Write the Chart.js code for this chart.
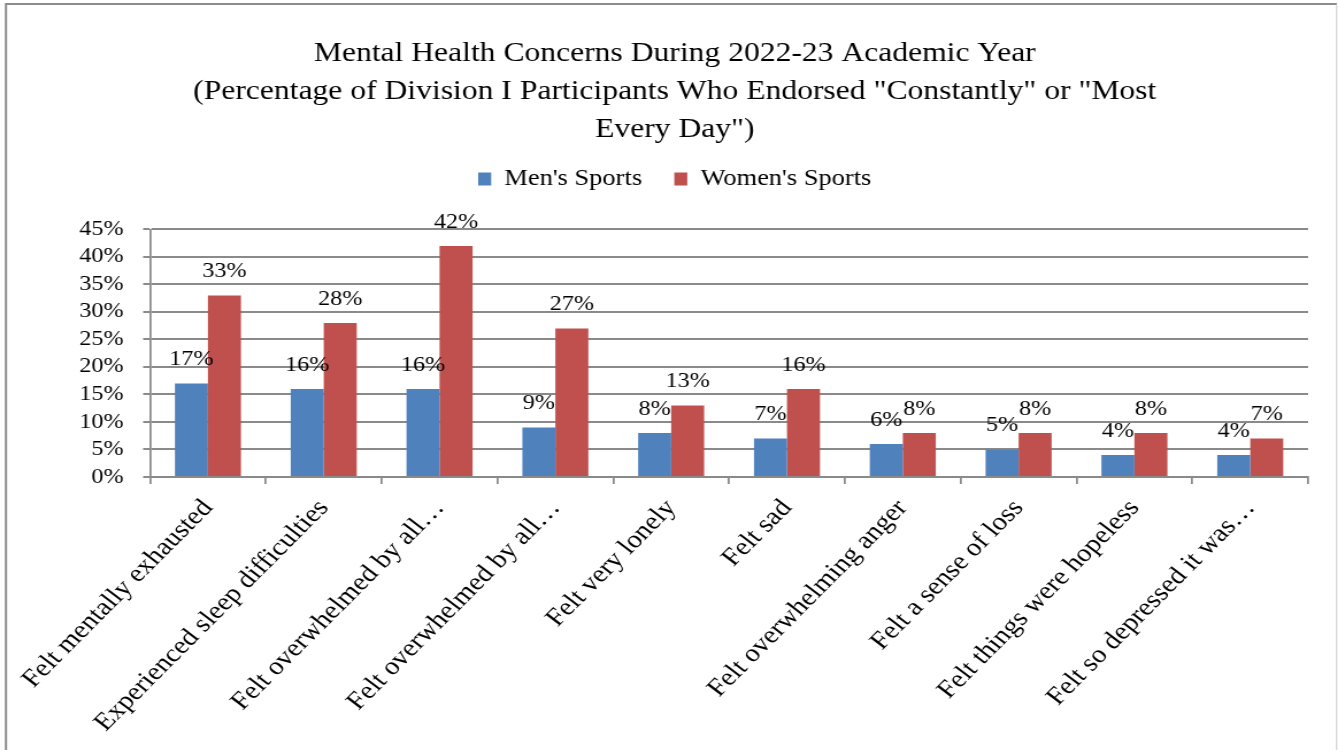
<!DOCTYPE html>
<html>
<head>
<meta charset="utf-8">
<script src="https://cdn.jsdelivr.net/npm/chart.js@4/dist/chart.umd.min.js"></script>
<style>
  html, body { margin: 0; padding: 0; background: #fff; overflow: hidden; }
  #wrap { width: 1338px; height: 750px; overflow: hidden; }
  /* the chart is laid out narrower and stretched sideways to the page width */
  #chart { transform: scaleX(1.1495); transform-origin: 0 0; }
</style>
</head>
<body>
<div id="wrap"><canvas id="chart" width="1164" height="750"></canvas></div>
<script>
var categories = [
  'Felt mentally exhausted',
  'Experienced sleep difficulties',
  'Felt overwhelmed by all\u2026',
  'Felt overwhelmed by all\u2026',
  'Felt very lonely',
  'Felt sad',
  'Felt overwhelming anger',
  'Felt a sense of loss',
  'Felt things were hopeless',
  'Felt so depressed it was\u2026'
];
var mensSports = [17, 16, 16, 9, 8, 7, 6, 5, 4, 4];
var womensSports = [33, 28, 42, 27, 13, 16, 8, 8, 8, 7];
var titleLines = [
  'Mental Health Concerns During 2022-23 Academic Year',
  '(Percentage of Division I Participants Who Endorsed "Constantly" or "Most',
  'Every Day")'
];

var SERIF = "'Liberation Serif', 'Times New Roman', serif";
var GRID = '#8a8a8a';

// grey frame round the chart
var framePlugin = {
  id: 'frame',
  beforeDraw: function (chart) {
    var ctx = chart.ctx;
    ctx.save();
    ctx.strokeStyle = '#8c8c8c';
    ctx.lineWidth = 2;
    ctx.beginPath();
    ctx.moveTo(5.2, 760);
    ctx.lineTo(5.2, 4);
    ctx.lineTo(1163, 4);
    ctx.stroke();
    ctx.strokeStyle = '#c8c8c8';
    ctx.lineWidth = 1;
    ctx.beginPath();
    ctx.moveTo(1162.8, 4);
    ctx.lineTo(1162.8, 760);
    ctx.stroke();
    ctx.restore();
  }
};

// extra room between legend and plot
var legendGap = {
  id: 'legendGap',
  beforeInit: function (chart) {
    var fit = chart.legend.fit;
    chart.legend.fit = function () {
      fit.call(this);
      this.height += 29;
    };
  }
};

// value labels above each bar
var valueLabels = {
  id: 'valueLabels',
  afterDatasetsDraw: function (chart) {
    var ctx = chart.ctx;
    ctx.save();
    ctx.font = '21px ' + SERIF;
    ctx.fillStyle = '#000';
    ctx.textAlign = 'center';
    ctx.textBaseline = 'alphabetic';
    chart.data.datasets.forEach(function (ds, i) {
      chart.getDatasetMeta(i).data.forEach(function (bar, j) {
        ctx.fillText(ds.data[j] + '%', bar.x, bar.y - 18);
      });
    });
    ctx.restore();
  }
};

new Chart(document.getElementById('chart'), {
  type: 'bar',
  data: {
    labels: categories,
    datasets: [
      { label: "Men's Sports", data: mensSports, backgroundColor: '#4F81BD' },
      { label: "Women's Sports", data: womensSports, backgroundColor: '#C0504D' }
    ]
  },
  options: {
    responsive: false,
    animation: false,
    devicePixelRatio: 1,
    categoryPercentage: 0.57,
    barPercentage: 1,
    layout: { padding: { left: 36, right: 26, top: 0, bottom: 0 } },
    plugins: {
      title: {
        display: true,
        text: titleLines,
        color: '#000',
        font: { family: SERIF, size: 27.5, weight: 'normal', lineHeight: 1.375 },
        padding: { top: 35, bottom: -9 }
      },
      legend: {
        display: true,
        labels: {
          color: '#000',
          font: { family: SERIF, size: 23 },
          boxWidth: 11.3,
          boxHeight: 13,
          padding: 28
        }
      },
      tooltip: { enabled: false }
    },
    scales: {
      x: {
        grid: { drawOnChartArea: false, drawTicks: true, tickLength: 7, color: GRID, lineWidth: 1.75 },
        border: { display: true, color: GRID, width: 2 },
        ticks: {
          color: '#000',
          font: { family: SERIF, size: 25 },
          minRotation: 49,
          maxRotation: 49,
          autoSkip: false,
          padding: 10
        },
        afterFit: function (scale) { scale.height = 273; }
      },
      y: {
        min: 0,
        max: 45,
        grid: { color: GRID, lineWidth: 2, tickLength: 6 },
        border: { display: true, color: GRID, width: 1.75 },
        ticks: {
          stepSize: 5,
          autoSkip: false,
          color: '#000',
          font: { family: SERIF, size: 21 },
          padding: 17,
          callback: function (v) { return v + '%'; }
        },
        afterFit: function (scale) { scale.width = 94.5; }
      }
    }
  },
  plugins: [framePlugin, legendGap, valueLabels]
});
</script>
</body>
</html>
